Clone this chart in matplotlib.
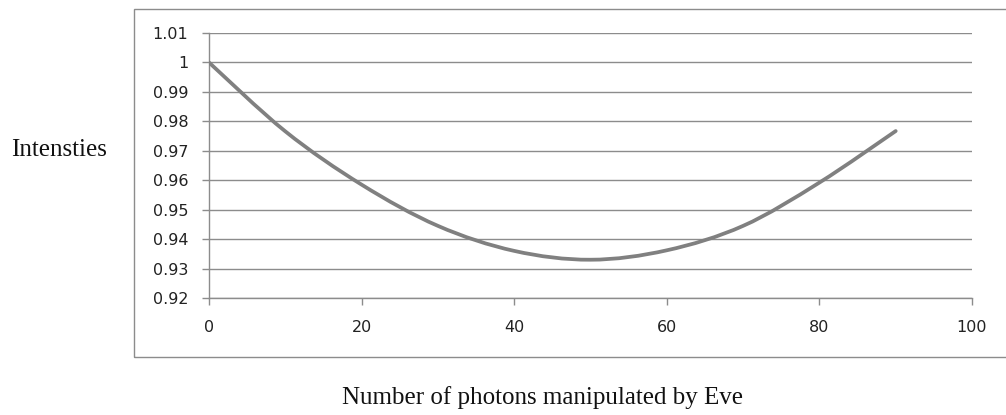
import matplotlib
matplotlib.use("Agg")
import matplotlib.pyplot as plt
from matplotlib.path import Path
from matplotlib.patches import PathPatch, Rectangle

# Intensity measured against the number of photons Eve manipulates
photons = [0, 10, 20, 30, 40, 50, 60, 70, 80, 90]
intensities = [1.0, 0.9766, 0.9585, 0.9445, 0.936, 0.933, 0.9362, 0.9445, 0.9592, 0.9767]

x_ticks = [0, 20, 40, 60, 80, 100]
y_ticks = [0.92, 0.93, 0.94, 0.95, 0.96, 0.97, 0.98, 0.99, 1.0, 1.01]
y_tick_labels = ["0.92", "0.93", "0.94", "0.95", "0.96", "0.97", "0.98", "0.99", "1", "1.01"]

W, H = 1006, 415
fig = plt.figure(figsize=(W / 100, H / 100), dpi=100)
ax = fig.add_axes([209 / W, 1 - 298 / H, (972 - 209) / W, (298 - 33) / H])

grid_col = "#8c8c8c"
ax.set_xlim(0, 100)
ax.set_ylim(0.92, 1.01)
ax.set_xticks(x_ticks)
ax.set_yticks(y_ticks)
ax.set_yticklabels(y_tick_labels)
ax.yaxis.grid(True, color=grid_col, linewidth=1.0)
ax.set_axisbelow(True)
for side in ("top", "right"):
    ax.spines[side].set_visible(False)
for side in ("left", "bottom"):
    ax.spines[side].set_color(grid_col)
    ax.spines[side].set_linewidth(1.0)
ax.tick_params(axis="y", direction="out", length=5, width=1.0, color=grid_col,
               pad=10, labelsize=11.5, labelcolor="#222222")
ax.tick_params(axis="x", direction="out", length=5, width=1.0, color=grid_col,
               pad=11, labelsize=11.5, labelcolor="#222222")

# Smoothed line through the points (cubic Bezier segments)
pts = list(zip(photons, intensities))
n = len(pts)
verts = [pts[0]]
codes = [Path.MOVETO]
for i in range(n - 1):
    p_prev = pts[i - 1] if i > 0 else pts[i]
    p0 = pts[i]
    p1 = pts[i + 1]
    p_next = pts[i + 2] if i + 2 < n else pts[i + 1]
    c1 = (p0[0] + (p1[0] - p_prev[0]) / 6, p0[1] + (p1[1] - p_prev[1]) / 6)
    c2 = (p1[0] - (p_next[0] - p0[0]) / 6, p1[1] - (p_next[1] - p0[1]) / 6)
    verts += [c1, c2, p1]
    codes += [Path.CURVE4] * 3
ax.add_patch(PathPatch(Path(verts, codes), facecolor="none", edgecolor="#808080",
                       linewidth=2.7, capstyle="round", joinstyle="round", zorder=3))

# Chart frame around the plot area
fig.patches.append(Rectangle((134 / W, 1 - 357 / H), 1.0, (357 - 9) / H,
                             transform=fig.transFigure, fill=False,
                             edgecolor=grid_col, linewidth=1.0))

serif = ["Liberation Serif", "DejaVu Serif"]
fig.text(59.5 / W, 1 - 150 / H, "Intensties", family=serif, fontsize=18,
         ha="center", va="center", color="#111111")
fig.text(543 / W, 1 - 398 / H, "Number of photons manipulated by Eve", family=serif,
         fontsize=18, ha="center", va="center", color="#111111")

fig.savefig("out.png", dpi=100)
